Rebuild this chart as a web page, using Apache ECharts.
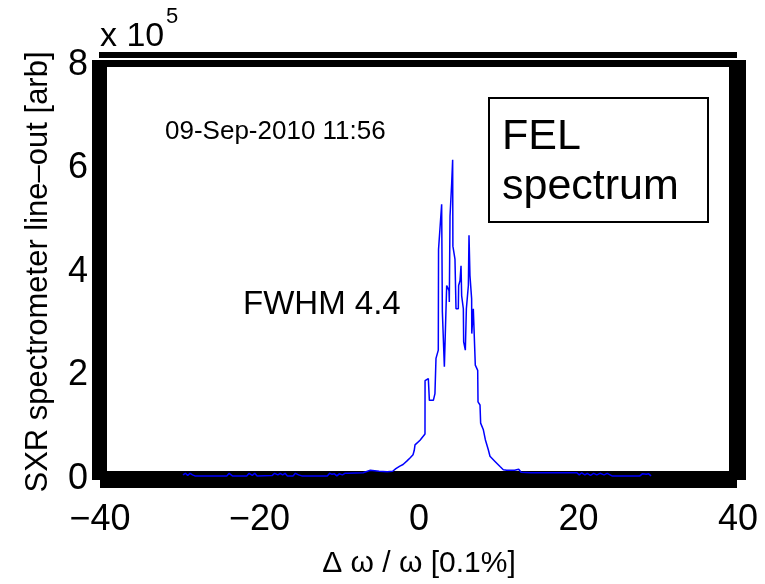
<!DOCTYPE html>
<html>
<head>
<meta charset="utf-8">
<script src="https://cdn.jsdelivr.net/npm/echarts@6/dist/echarts.min.js"></script>
<style>html,body{margin:0;padding:0;background:#fff}#c{width:765px;height:584px}</style>
</head>
<body>
<div id="c"></div>
<script>
// Δω/ω [0.1%]
var deltaOmega = [
 -29.6,-29.3,-29.0,-28.7,-28.4,-28.1,
 -24.1,-23.8,-23.4,
 -21.6,-21.3,-20.9,-20.6,-20.3,
 -18.4,-18.1,-17.7,-17.4,-17.1,-16.8,-16.5,
 -15.8,-15.5,-15.1,-14.7,
 -11.5,-11.2,-10.9,-10.6,-10.3,-10.0,-9.6,-9.3,-8.9,-8.8,-7.0,
 -6.1,-5.0,-4.0,-3.3,-2.9,-2.4,-2.0,-1.75,-1.5,-1.1,-0.75,-0.6,-0.5,
 0.13,0.75,0.76,1.17,1.3,1.8,2.0,2.13,2.42,2.45,2.84,2.93,3.18,3.47,3.76,3.8,3.89,4.1,4.22,
 4.25,4.51,4.64,4.93,4.97,5.14,5.27,5.35,5.56,5.6,5.81,5.94,6.19,6.27,6.39,6.6,6.62,6.81,
 7.02,7.06,7.36,7.4,7.65,7.73,8.07,8.32,8.7,8.9,9.53,10.16,10.57,
 11.0,12.0,12.5,12.8,14.0,16.0,18.0,19.8,20.1,20.4,20.8,21.1,21.5,21.9,22.3,22.7,23.2,23.6,24.2,
 27.7,28.0,28.5,28.8,29.1
];
// SXR spectrometer line-out, units of 1e5 [arb]
var lineOut = [
 0.08,0.11,0.07,0.11,0.08,0.06,
 0.06,0.11,0.06,
 0.06,0.11,0.07,0.11,0.06,
 0.07,0.11,0.08,0.11,0.08,0.11,0.06,
 0.06,0.11,0.08,0.06,
 0.06,0.11,0.09,0.10,0.06,0.10,0.08,0.11,0.11,0.12,0.12,
 0.17,0.15,0.14,0.15,0.20,0.25,0.28,0.31,0.35,0.41,0.47,0.55,0.66,
 0.75,0.87,1.90,1.94,1.52,1.52,1.65,2.33,2.49,4.44,5.31,3.23,2.17,3.74,3.64,3.42,5.08,5.72,6.17,
 4.50,4.25,3.29,3.29,3.74,3.83,4.12,3.54,3.29,2.65,2.49,3.29,3.74,4.71,3.93,3.48,2.81,3.29,
 3.30,2.20,2.10,1.49,1.43,1.08,0.95,0.76,0.56,0.44,0.34,0.24,0.18,
 0.17,0.17,0.19,0.13,0.12,0.12,0.12,0.12,0.08,0.12,0.08,0.11,0.07,0.11,0.08,0.11,0.08,0.11,0.06,
 0.06,0.10,0.09,0.10,0.06
];
var xTicks = [-40, -20, 0, 20, 40];
var yTicks = [0, 2, 4, 6, 8];

var seriesData = deltaOmega.map(function (x, i) { return [x, lineOut[i]]; });
var FONT = 'Liberation Sans, Arial, Helvetica, sans-serif';
function fmt(v) { return v < 0 ? '\u2212' + Math.abs(v) : String(v); }

var chart = echarts.init(document.getElementById('c'), null, {renderer: 'canvas'});
chart.setOption({
  animation: false,
  backgroundColor: '#fff',
  grid: {left: 100, right: 27, top: 65, bottom: 103},
  xAxis: {
    type: 'value', min: xTicks[0], max: xTicks[xTicks.length - 1], interval: 20,
    axisLine: {show: false}, axisTick: {show: false}, splitLine: {show: false},
    axisLabel: {color: '#000', fontSize: 36, fontFamily: FONT, margin: 23, formatter: fmt},
    name: '\u0394 \u03c9 / \u03c9 [0.1%]', nameLocation: 'middle', nameGap: 70,
    nameTextStyle: {color: '#000', fontSize: 30, fontFamily: FONT}
  },
  yAxis: {
    type: 'value', min: yTicks[0], max: yTicks[yTicks.length - 1], interval: 2,
    axisLine: {show: false}, axisTick: {show: false}, splitLine: {show: false},
    axisLabel: {color: '#000', fontSize: 36, fontFamily: FONT, margin: 12, formatter: fmt},
    name: 'SXR spectrometer line\u2013out [arb]', nameLocation: 'middle', nameGap: 46, nameRotate: 90,
    nameTextStyle: {color: '#000', fontSize: 31, fontFamily: FONT}
  },
  graphic: [
    {type: 'rect', z: 0, shape: {x: 99, y: 52, width: 638, height: 6}, style: {fill: '#000'}},
    {type: 'rect', z: 0, shape: {x: 92, y: 60, width: 654, height: 7}, style: {fill: '#000'}},
    {type: 'rect', z: 0, shape: {x: 92, y: 60, width: 15, height: 420}, style: {fill: '#000'}},
    {type: 'rect', z: 0, shape: {x: 729, y: 60, width: 17, height: 420}, style: {fill: '#000'}},
    {type: 'rect', z: 0, shape: {x: 100, y: 471, width: 637, height: 17}, style: {fill: '#000'}},
    {type: 'text', z: 10, left: 100, top: 20, style: {text: 'x 10', fill: '#000', font: '34px ' + FONT}},
    {type: 'text', z: 10, left: 166, top: 6, style: {text: '5', fill: '#000', font: '22px ' + FONT}},
    {type: 'text', z: 10, left: 165, top: 119, style: {text: '09-Sep-2010 11:56', fill: '#000', font: '26px ' + FONT}},
    {type: 'text', z: 10, left: 243, top: 288, style: {text: 'FWHM 4.4', fill: '#000', font: '33px ' + FONT}},
    {type: 'rect', z: 10, shape: {x: 489, y: 98, width: 219, height: 124}, style: {fill: '#fff', stroke: '#000', lineWidth: 2}},
    {type: 'text', z: 11, left: 502, top: 112, style: {text: 'FEL\nspectrum', fill: '#000', font: '43px ' + FONT, lineHeight: 50}}
  ],
  series: [{
    type: 'line', data: seriesData, showSymbol: false, symbol: 'none', z: 20,
    lineStyle: {color: '#0000ff', width: 1.5}, clip: false
  }]
});
</script>
</body>
</html>
